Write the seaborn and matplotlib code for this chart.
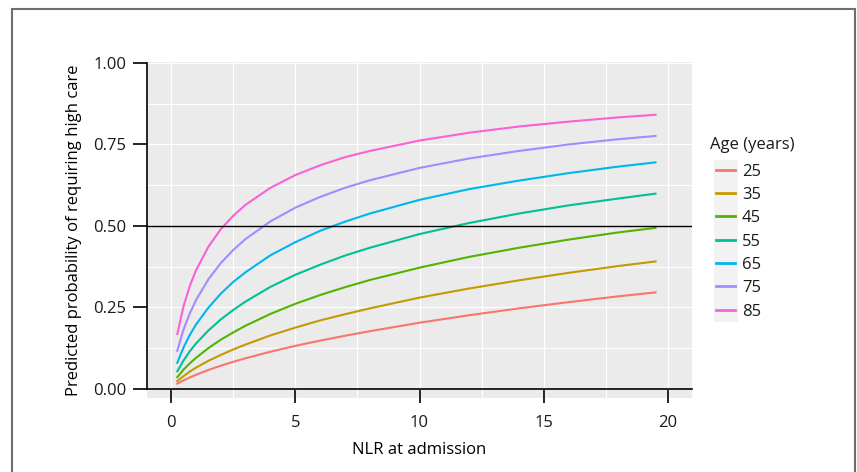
import pandas as pd
import matplotlib.pyplot as plt
import matplotlib.ticker as mticker
from matplotlib.patches import Rectangle
import seaborn as sns

# values
nlr = [0.25, 0.5, 0.75, 1, 1.5, 2, 2.5, 3, 4, 5, 6, 7, 8, 10, 12, 14, 16, 18, 19.5]
ages = ['25', '35', '45', '55', '65', '75', '85']
p25 = [0.016, 0.026, 0.035, 0.043, 0.058, 0.071, 0.083, 0.094, 0.114, 0.132, 0.148, 0.163, 0.177, 0.203, 0.226, 0.247, 0.266, 0.284, 0.296]
p35 = [0.024, 0.039, 0.053, 0.065, 0.086, 0.104, 0.121, 0.136, 0.164, 0.188, 0.210, 0.229, 0.247, 0.280, 0.308, 0.333, 0.356, 0.377, 0.391]
p45 = [0.036, 0.059, 0.078, 0.095, 0.125, 0.151, 0.173, 0.194, 0.230, 0.261, 0.288, 0.312, 0.334, 0.372, 0.405, 0.433, 0.458, 0.480, 0.494]
p55 = [0.054, 0.087, 0.115, 0.139, 0.179, 0.213, 0.242, 0.268, 0.313, 0.350, 0.381, 0.409, 0.433, 0.475, 0.509, 0.538, 0.563, 0.584, 0.599]
p65 = [0.080, 0.127, 0.165, 0.197, 0.249, 0.292, 0.328, 0.358, 0.410, 0.450, 0.485, 0.513, 0.538, 0.580, 0.613, 0.639, 0.662, 0.682, 0.695]
p75 = [0.117, 0.182, 0.231, 0.272, 0.336, 0.386, 0.426, 0.460, 0.514, 0.556, 0.589, 0.617, 0.640, 0.678, 0.707, 0.730, 0.750, 0.766, 0.776]
p85 = [0.168, 0.253, 0.315, 0.363, 0.436, 0.490, 0.531, 0.565, 0.617, 0.656, 0.686, 0.711, 0.730, 0.762, 0.786, 0.805, 0.820, 0.833, 0.841]
colors = ['#F8766D', '#C49A00', '#53B400', '#00C094', '#00B6EB', '#A58AFF', '#FB61D7']

series = [p25, p35, p45, p55, p65, p75, p85]
rows = []
for age, vals in zip(ages, series):
    for x, y in zip(nlr, vals):
        rows.append({'NLR': x, 'prob': y, 'Age': age})
df = pd.DataFrame(rows)

plt.rcParams['font.family'] = ['Open Sans', 'DejaVu Sans']
plt.rcParams['text.color'] = '#1a1a1a'

W, H = 857, 472
fig = plt.figure(figsize=(W / 100, H / 100), dpi=100)
ax = fig.add_axes([147 / W, 1 - 398 / H, (692 - 147) / W, (398 - 62) / H])
ax.set_facecolor('#EBEBEB')

sns.lineplot(data=df, x='NLR', y='prob', hue='Age', hue_order=ages,
             palette=colors, linewidth=1.5, ax=ax, legend=True)
ax.axhline(0.5, color='black', linewidth=1.0, zorder=3)

ax.set_xlim(-0.97, 20.97)
ax.set_ylim(-0.028, 1.003)
ax.xaxis.set_major_locator(mticker.MultipleLocator(5))
ax.xaxis.set_minor_locator(mticker.MultipleLocator(2.5))
ax.yaxis.set_major_locator(mticker.MultipleLocator(0.25))
ax.yaxis.set_minor_locator(mticker.MultipleLocator(0.125))
ax.yaxis.set_major_formatter(mticker.FormatStrFormatter('%.2f'))
ax.grid(True, which='both', color='white', linewidth=0.8)
ax.set_axisbelow(True)

for s in ['top', 'right']:
    ax.spines[s].set_visible(False)
ax.spines['bottom'].set_position(('data', 0))
ax.spines['left'].set_bounds(0, 1)
for s in ['left', 'bottom']:
    ax.spines[s].set_color('black')
    ax.spines[s].set_linewidth(1.2)
ax.tick_params(which='major', length=10, width=1.2, color='black',
               labelsize=12, labelcolor='#1a1a1a')
ax.tick_params(axis='y', pad=5)
ax.tick_params(axis='x', pad=8.5)
ax.tick_params(which='minor', length=0)

ax.set_xlabel('NLR at admission', fontsize=12, labelpad=8)
ax.set_ylabel('Predicted probability of requiring high care', fontsize=12, labelpad=8)

handles, labels = ax.get_legend_handles_labels()
leg = ax.legend(handles, labels, loc='upper left',
                bbox_to_anchor=(716 / W, 1 - 163.5 / H), bbox_transform=fig.transFigure,
                frameon=False, fontsize=12, borderpad=0,
                borderaxespad=0, handlelength=1.15, handletextpad=0.4,
                labelspacing=0.44)
for ln in leg.get_lines():
    ln.set_linewidth(2)
fig.text(710 / W, 1 - 145 / H, 'Age (years)', fontsize=12, va='center', ha='left')

# legend key background and outer frame
fig.patches.append(Rectangle((714 / W, 1 - 322 / H), 24 / W, 162 / H,
                             transform=fig.transFigure, facecolor='#F2F2F2',
                             edgecolor='none', zorder=-1))
fig.patches.append(Rectangle((11.5 / W, -0.05), (855 - 11.5) / W, 1.05 - 9 / H,
                             transform=fig.transFigure, facecolor='none',
                             edgecolor='#6E6E6E', linewidth=1.5, clip_on=False))

plt.savefig('out.png', dpi=100)
